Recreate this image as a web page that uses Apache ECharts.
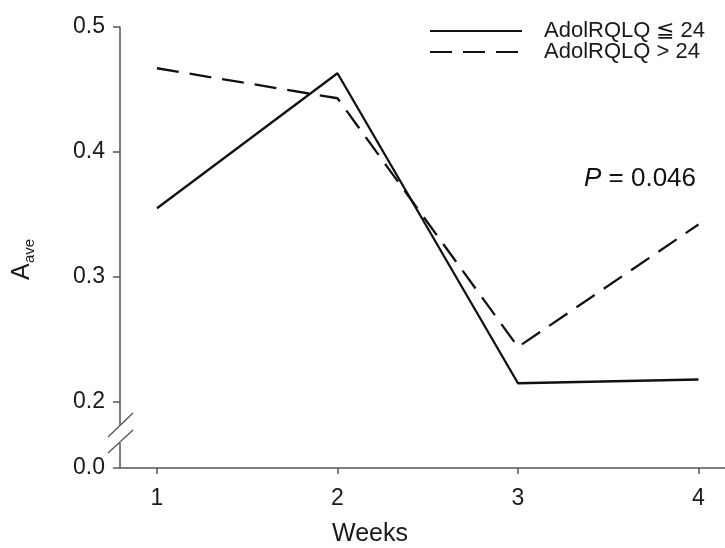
<!DOCTYPE html>
<html>
<head>
<meta charset="utf-8">
<script src="https://cdn.jsdelivr.net/npm/echarts@6/dist/echarts.min.js"></script>
<style>
  html, body { margin: 0; padding: 0; background: #fff; }
  #chart { width: 725px; height: 548px; }
</style>
</head>
<body>
<div id="chart"></div>
<script>
// data
var weeks = [1, 2, 3, 4];
var lowGroup = [0.355, 0.463, 0.215, 0.218];   // AdolRQLQ <= 24
var highGroup = [0.467, 0.443, 0.244, 0.342];  // AdolRQLQ > 24
var seriesNames = ['AdolRQLQ \u2266 24', 'AdolRQLQ > 24'];

// broken y axis: 0.0 drawn just below the break
var breakZero = 0.1472;
var yTickValues = [breakZero, 0.2, 0.3, 0.4, 0.5];
var yTickLabels = ['0.0', '0.2', '0.3', '0.4', '0.5'];

var myChart = echarts.init(document.getElementById('chart'));

function toPairs(vals) {
    return weeks.map(function (w, i) { return [w, vals[i]]; });
}

var fontFamily = 'Liberation Sans, Arial, sans-serif';
var axisColor = '#555';
var textColor = '#1a1a1a';

function paintChart() {
    var option = {
        animation: false,
        textStyle: { fontFamily: fontFamily },
        grid: {
            left: 120,
            right: 0,
            top: 27,
            bottom: 80
        },
        legend: {
            orient: 'vertical',
            left: 424,
            top: 15,
            itemWidth: 92,
            itemHeight: 14,
            itemGap: -1,
            data: seriesNames,
            itemStyle: { opacity: 0 },
            textStyle: {
                fontSize: 22,
                lineHeight: 19,
                color: textColor,
                padding: [0, 0, 0, 17]
            }
        },
        xAxis: {
            type: 'value',
            min: 0.795,
            max: 4.147,
            axisLine: { onZero: false, lineStyle: { color: axisColor, width: 1.5 } },
            axisTick: {
                show: true,
                length: 6,
                customValues: weeks,
                lineStyle: { color: axisColor, width: 1.5 }
            },
            axisLabel: {
                customValues: weeks,
                margin: 19,
                fontSize: 23,
                color: textColor
            },
            splitLine: { show: false }
        },
        yAxis: {
            type: 'value',
            min: breakZero,
            max: 0.5,
            axisLine: { show: true, lineStyle: { color: axisColor, width: 1.5 } },
            axisTick: {
                show: true,
                length: 7,
                customValues: yTickValues,
                lineStyle: { color: axisColor, width: 1.5 }
            },
            axisLabel: {
                customValues: yTickValues,
                margin: 15,
                fontSize: 23,
                color: textColor,
                formatter: function (value) {
                    var idx = yTickValues.indexOf(value);
                    return idx >= 0 ? yTickLabels[idx] : '';
                }
            },
            splitLine: { show: false }
        },
        series: [{
            name: seriesNames[0],
            type: 'line',
            symbol: 'none',
            lineStyle: { color: '#111', width: 2.3, type: 'solid' },
            itemStyle: { color: '#111' },
            data: toPairs(lowGroup)
        }, {
            name: seriesNames[1],
            type: 'line',
            symbol: 'none',
            lineStyle: { color: '#111', width: 2.3, type: [22, 11] },
            itemStyle: { color: '#111' },
            data: toPairs(highGroup)
        }]
    };
    myChart.setOption(option);

    // axis break marks, axis title texts
    var axisX = myChart.convertToPixel({ gridIndex: 0 }, [0.795, 0.2])[0];
    var y02 = myChart.convertToPixel({ gridIndex: 0 }, [1, 0.2])[1];
    var y00 = myChart.convertToPixel({ gridIndex: 0 }, [1, breakZero])[1];
    var midY = (y02 + y00) / 2;

    myChart.setOption({
        graphic: [{
            type: 'rect',
            shape: { x: axisX - 3, y: midY - 10, width: 6, height: 18 },
            style: { fill: '#fff' },
            z: 100
        }, {
            type: 'line',
            shape: { x1: axisX - 12, y1: midY + 2, x2: axisX + 13, y2: midY - 22 },
            style: { stroke: axisColor, lineWidth: 1.3 },
            z: 101
        }, {
            type: 'line',
            shape: { x1: axisX - 12, y1: midY + 18, x2: axisX + 13, y2: midY - 5 },
            style: { stroke: axisColor, lineWidth: 1.3 },
            z: 101
        }, {
            type: 'text',
            left: 332,
            top: 522,
            style: { text: 'Weeks', fontSize: 25, fill: textColor, fontFamily: fontFamily }
        }, {
            type: 'group',
            x: 10,
            y: 280,
            rotation: Math.PI / 2,
            children: [{
                type: 'text',
                x: 0,
                y: 0,
                style: { text: 'A', fontSize: 25, fill: textColor, fontFamily: fontFamily, textVerticalAlign: 'top' }
            }, {
                type: 'text',
                x: 17,
                y: 12,
                style: { text: 'ave', fontSize: 15, fill: textColor, fontFamily: fontFamily, textVerticalAlign: 'top' }
            }]
        }, {
            type: 'text',
            left: 584,
            top: 166,
            style: {
                text: '{p|P} = 0.046',
                fontSize: 26,
                fill: '#111',
                fontFamily: fontFamily,
                rich: { p: { fontStyle: 'italic', fontSize: 26, fontFamily: fontFamily } }
            }
        }]
    });
}

paintChart();
</script>
</body>
</html>
